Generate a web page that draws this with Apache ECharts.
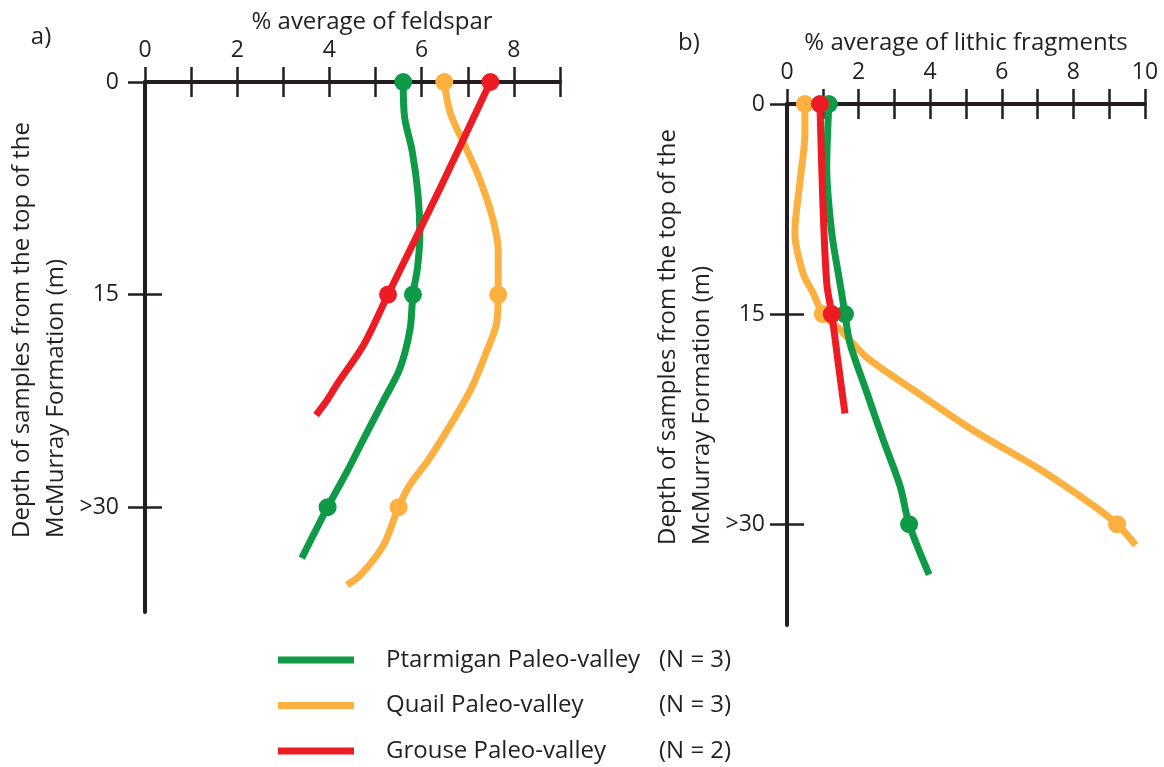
<!DOCTYPE html>
<html>
<head>
<meta charset="utf-8">
<script src="https://cdn.jsdelivr.net/npm/echarts@6/dist/echarts.min.js"></script>
<style>
  html, body { margin: 0; padding: 0; background: #ffffff; }
  #chart { width: 1164px; height: 767px; }
</style>
</head>
<body>
<div id="chart"></div>
<script>
// ---- Data ----
const seriesNames = ['Ptarmigan Paleo-valley', 'Quail Paleo-valley', 'Grouse Paleo-valley'];
const sampleCounts = ['(N = 3)', '(N = 3)', '(N = 2)'];
const seriesColors = ['#0f9a48', '#fbb040', '#ed1c24'];

const depthTickValues = [0, 15, 30];
const depthTickLabels = ['0', '15', '>30'];
const feldsparTicks = [0, 1, 2, 3, 4, 5, 6, 7, 8, 9];
const feldsparLabels = [0, 2, 4, 6, 8];
const lithicTicks = [0, 1, 2, 3, 4, 5, 6, 7, 8, 9, 10];
const lithicLabels = [0, 2, 4, 6, 8, 10];

// traced curves: [percent, depth m]
const ptarmiganFeldspar = [[5.60,0],[5.63,2.5],[5.79,4.8],[5.92,7.9],[5.96,10.7],[5.91,13.1],[5.81,15],[5.75,17.4],[5.53,20.2],[5.17,22.5],[4.77,25],[4.38,27.5],[3.96,30],[3.40,33.6]];
const quailFeldspar = [[6.49,0],[6.62,2.2],[6.91,4.3],[7.24,6.7],[7.53,9.5],[7.66,11.9],[7.66,15],[7.62,17.1],[7.41,19.0],[7.08,21.6],[6.66,24.0],[6.16,26.6],[5.75,28.4],[5.50,30],[5.17,32.7],[4.67,34.8],[4.38,35.5]];
const grouseFeldspar = [[7.49,0],[6.40,7.5],[5.27,15],[4.75,18.5],[4.17,21.3],[3.96,22.4],[3.71,23.5]];

const ptarmiganLithic = [[1.17,0],[1.11,4.5],[1.25,9.2],[1.48,12.8],[1.62,15],[1.76,17.1],[2.23,20.6],[2.69,24],[3.16,27.3],[3.41,30],[3.97,33.6]];
const quailLithic = [[0.50,0],[0.50,2.1],[0.36,5.6],[0.22,9.2],[0.45,12.1],[0.73,13.5],[1.00,15],[1.48,16.1],[2.23,18.1],[3.52,20.4],[5.20,23.3],[7.07,26.1],[8.46,28.5],[9.22,30],[9.74,31.5]];
const grouseLithic = [[0.92,0],[1.00,6.9],[1.11,12.8],[1.25,15],[1.43,18.5],[1.62,22.1]];

// sampled (averaged) points shown as dots
const ptarmiganFeldsparSamples = [[5.60,0],[5.81,15],[3.96,30]];
const quailFeldsparSamples = [[6.49,0],[7.66,15],[5.50,30]];
const grouseFeldsparSamples = [[7.49,0],[5.27,15]];
const ptarmiganLithicSamples = [[1.17,0],[1.62,15],[3.41,30]];
const quailLithicSamples = [[0.50,0],[1.00,15],[9.22,30]];
const grouseLithicSamples = [[0.92,0],[1.25,15]];

// ---- Styling ----
const FONT = '"Open Sans", sans-serif';
const INK = '#231f20';

function xAxes(grid, max, ticks, labels) {
  return [
    { type: 'value', gridIndex: grid, position: 'top', min: 0, max: max, interval: 1,
      axisLine: { show: true, onZero: false, lineStyle: { color: INK, width: 4 } },
      axisTick: { show: true, inside: false, length: 15, customValues: ticks, lineStyle: { color: INK, width: 2.5 } },
      axisLabel: { show: true, customValues: labels, margin: 20, fontSize: 23, fontFamily: FONT, color: INK },
      splitLine: { show: false } },
    { type: 'value', gridIndex: grid, position: 'top', min: 0, max: max, interval: 1,
      axisLine: { show: false, onZero: false },
      axisTick: { show: true, inside: true, length: 15, customValues: ticks, lineStyle: { color: INK, width: 2.5 } },
      axisLabel: { show: false },
      splitLine: { show: false } }
  ];
}
function yAxes(grid, max, margin) {
  return [
    { type: 'value', gridIndex: grid, inverse: true, position: 'left', min: 0, max: max, interval: 15,
      axisLine: { show: true, onZero: false, lineStyle: { color: INK, width: 4 } },
      axisTick: { show: true, inside: false, length: 17, customValues: depthTickValues, lineStyle: { color: INK, width: 2.5 } },
      axisLabel: { show: true, customValues: depthTickValues, margin: margin, fontSize: 23, fontFamily: FONT, color: INK,
        formatter: v => depthTickLabels[depthTickValues.indexOf(v)] },
      splitLine: { show: false } },
    { type: 'value', gridIndex: grid, inverse: true, position: 'left', min: 0, max: max, interval: 15,
      axisLine: { show: false, onZero: false },
      axisTick: { show: true, inside: true, length: 17, customValues: depthTickValues, lineStyle: { color: INK, width: 2.5 } },
      axisLabel: { show: false },
      splitLine: { show: false } }
  ];
}
function curve(idx, data, xi, yi, z) {
  return { type: 'line', name: seriesNames[idx], xAxisIndex: xi, yAxisIndex: yi, data: data,
    smooth: 0.3, symbol: 'none', z: z,
    lineStyle: { width: 7, color: seriesColors[idx], opacity: 1 }, itemStyle: { color: seriesColors[idx] } };
}
function dots(idx, data, xi, yi, z) {
  return { type: 'scatter', name: seriesNames[idx], xAxisIndex: xi, yAxisIndex: yi, data: data,
    symbol: 'circle', symbolSize: 18, z: z, itemStyle: { color: seriesColors[idx], opacity: 1 } };
}

const chart = echarts.init(document.getElementById('chart'), null, { renderer: 'canvas' });
const yName = 'Depth of samples from the top of the\nMcMurray Formation (m)';
chart.setOption({
  animation: false,
  backgroundColor: '#ffffff',
  grid: [
    { left: 145, top: 82, width: 415, height: 530 },
    { left: 787, top: 104, width: 358, height: 521 }
  ],
  xAxis: [].concat(xAxes(0, 9, feldsparTicks, feldsparLabels), xAxes(1, 10, lithicTicks, lithicLabels)),
  yAxis: [].concat(yAxes(0, 37.4, 26), yAxes(1, 37.2, 22)),
  legend: {
    data: seriesNames, orient: 'vertical', left: 278, top: 645, icon: 'rect',
    itemWidth: 76, itemHeight: 7, itemGap: 15.5, selectedMode: false, padding: 0,
    textStyle: { fontFamily: FONT, fontSize: 24, color: INK, lineHeight: 30,
      rich: {
        s: { width: 27 },
        n: { width: 273, fontFamily: FONT, fontSize: 24, color: INK },
        c: { fontFamily: FONT, fontSize: 24, color: INK }
      } },
    formatter: name => '{s|}{n|' + name + '}{c|' + sampleCounts[seriesNames.indexOf(name)] + '}'
  },
  graphic: [
    { type: 'text', x: 41, y: 37, style: { text: 'a)', fontFamily: FONT, fontSize: 24, fill: INK, textAlign: 'center', textVerticalAlign: 'middle' } },
    { type: 'text', x: 689, y: 43, style: { text: 'b)', fontFamily: FONT, fontSize: 24, fill: INK, textAlign: 'center', textVerticalAlign: 'middle' } },
    { type: 'text', x: 372, y: 22, style: { text: '% average of feldspar', fontFamily: FONT, fontSize: 24, fill: INK, textAlign: 'center', textVerticalAlign: 'middle' } },
    { type: 'text', x: 966, y: 43, style: { text: '% average of lithic fragments', fontFamily: FONT, fontSize: 24, fill: INK, textAlign: 'center', textVerticalAlign: 'middle' } },
    { type: 'text', x: 39, y: 538, rotation: Math.PI / 2, style: { text: yName, fontFamily: FONT, fontSize: 24, lineHeight: 34, fill: INK, textAlign: 'left', textVerticalAlign: 'middle' } },
    { type: 'text', x: 685, y: 545, rotation: Math.PI / 2, style: { text: yName, fontFamily: FONT, fontSize: 24, lineHeight: 34, fill: INK, textAlign: 'left', textVerticalAlign: 'middle' } }
  ],
  series: [
    curve(0, ptarmiganFeldspar, 0, 0, 3),
    curve(1, quailFeldspar, 0, 0, 2),
    curve(2, grouseFeldspar, 0, 0, 4),
    curve(0, ptarmiganLithic, 2, 2, 3),
    curve(1, quailLithic, 2, 2, 2),
    curve(2, grouseLithic, 2, 2, 4),
    dots(1, quailFeldsparSamples, 0, 0, 5),
    dots(0, ptarmiganFeldsparSamples, 0, 0, 6),
    dots(2, grouseFeldsparSamples, 0, 0, 7),
    dots(1, quailLithicSamples, 2, 2, 5),
    dots(0, ptarmiganLithicSamples, 2, 2, 6),
    dots(2, grouseLithicSamples, 2, 2, 7)
  ]
});
</script>
</body>
</html>
